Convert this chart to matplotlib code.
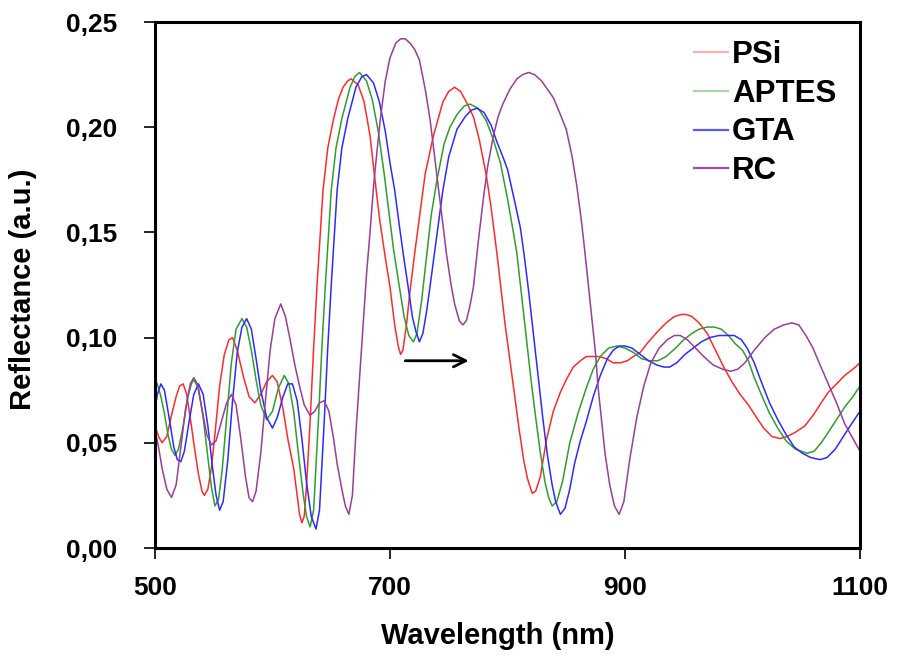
import matplotlib
matplotlib.use("Agg")
import matplotlib.pyplot as plt
from matplotlib.lines import Line2D

plt.rcParams['font.family'] = ['Liberation Sans', 'DejaVu Sans']
plt.rcParams['font.weight'] = 'bold'

# ---------------- data ----------------
psi_x = [500, 503, 506, 510, 514, 518, 521, 524, 527, 531, 534, 537, 540, 542, 545, 548, 551, 555, 559, 563,
         566, 570, 575, 580, 585, 590, 595, 600, 604, 609, 613, 618, 621, 623, 625, 627, 629, 632, 635, 638,
         643, 647, 652, 656, 660, 664, 667, 673, 678, 683, 687, 691, 696, 700, 704, 707, 709, 711, 714, 717,
         721, 725, 730, 737, 745, 750, 755, 760, 765, 771, 776, 782, 786, 791, 798, 805, 810, 814, 817, 821,
         824, 828, 833, 839, 845, 850, 856, 862, 867, 872, 878, 884, 890, 896, 902, 907, 913, 920, 928, 935,
         942, 948, 952, 957, 963, 970, 977, 984, 991, 998, 1005, 1012, 1018, 1025, 1032, 1038, 1045, 1053,
         1060, 1067, 1073, 1080, 1087, 1094, 1100]
psi_y = [0.058, 0.053, 0.050, 0.053, 0.063, 0.072, 0.077, 0.078, 0.073, 0.058, 0.046, 0.035, 0.027, 0.025,
         0.028, 0.038, 0.054, 0.077, 0.092, 0.099, 0.100, 0.094, 0.082, 0.072, 0.069, 0.073, 0.079, 0.082,
         0.079, 0.066, 0.052, 0.038, 0.025, 0.016, 0.012, 0.015, 0.030, 0.060, 0.095, 0.126, 0.170, 0.190,
         0.204, 0.213, 0.219, 0.222, 0.223, 0.220, 0.212, 0.196, 0.176, 0.157, 0.138, 0.124, 0.106, 0.096,
         0.092, 0.094, 0.106, 0.122, 0.140, 0.157, 0.178, 0.196, 0.212, 0.217, 0.219, 0.217, 0.212, 0.205,
         0.194, 0.177, 0.162, 0.140, 0.106, 0.077, 0.056, 0.041, 0.033, 0.026, 0.027, 0.034, 0.051, 0.065,
         0.074, 0.080, 0.086, 0.089, 0.091, 0.091, 0.091, 0.090, 0.088, 0.088, 0.089, 0.091, 0.093, 0.098,
         0.103, 0.107, 0.110, 0.111, 0.111, 0.110, 0.107, 0.102, 0.094, 0.086, 0.079, 0.073, 0.068, 0.062,
         0.057, 0.053, 0.052, 0.053, 0.055, 0.058, 0.063, 0.069, 0.074, 0.078, 0.082, 0.085, 0.088]

aptes_x = [500, 502, 505, 508, 511, 514, 517, 520, 524, 528, 531, 533, 537, 541, 545, 548, 551, 554, 557, 561,
           565, 569, 574, 578, 582, 586, 590, 595, 600, 605, 610, 614, 618, 622, 626, 629, 632, 635, 639, 642,
           645, 650, 654, 659, 666, 670, 674, 680, 685, 690, 695, 699, 703, 708, 712, 716, 720, 723, 727, 731,
           735, 740, 746, 751, 757, 763, 768, 775, 782, 788, 794, 800, 805, 808, 812, 816, 820, 824, 828, 832,
           835, 838, 842, 847, 853, 860, 867, 873, 879, 886, 893, 900, 907, 914, 921, 928, 935, 943, 950, 957,
           963, 970, 976, 982, 988, 994, 1000, 1005, 1010, 1016, 1023, 1030, 1037, 1045, 1050, 1055, 1061,
           1067, 1073, 1080, 1087, 1094, 1100]
aptes_y = [0.079, 0.078, 0.072, 0.064, 0.054, 0.047, 0.044, 0.047, 0.058, 0.072, 0.078, 0.080, 0.076, 0.062,
           0.043, 0.029, 0.020, 0.023, 0.036, 0.062, 0.088, 0.104, 0.109, 0.105, 0.094, 0.080, 0.068, 0.061,
           0.065, 0.076, 0.082, 0.078, 0.065, 0.045, 0.026, 0.015, 0.010, 0.018, 0.060, 0.095, 0.125, 0.170,
           0.190, 0.204, 0.219, 0.224, 0.226, 0.222, 0.213, 0.198, 0.178, 0.160, 0.142, 0.124, 0.110, 0.101,
           0.098, 0.102, 0.118, 0.138, 0.158, 0.175, 0.192, 0.200, 0.206, 0.210, 0.211, 0.209, 0.203, 0.194,
           0.183, 0.166, 0.150, 0.140, 0.120, 0.100, 0.080, 0.062, 0.045, 0.031, 0.024, 0.020, 0.022, 0.032,
           0.050, 0.064, 0.076, 0.085, 0.091, 0.095, 0.096, 0.095, 0.093, 0.090, 0.089, 0.089, 0.091, 0.095,
           0.099, 0.102, 0.104, 0.105, 0.105, 0.104, 0.101, 0.097, 0.094, 0.089, 0.081, 0.073, 0.064, 0.057,
           0.051, 0.047, 0.046, 0.045, 0.046, 0.050, 0.055, 0.061, 0.067, 0.072, 0.077]

gta_x = [500, 502, 505, 508, 512, 516, 519, 522, 525, 529, 533, 537, 541, 545, 549, 552, 555, 558, 562, 566,
         570, 574, 578, 582, 586, 590, 595, 600, 604, 609, 613, 617, 621, 625, 629, 633, 637, 640, 644, 647,
         650, 655, 659, 664, 671, 676, 680, 686, 691, 696, 700, 704, 708, 712, 716, 719, 722, 725, 728, 731,
         734, 739, 745, 750, 757, 764, 769, 774, 780, 786, 791, 796, 800, 806, 811, 814, 818, 822, 826, 830,
         834, 838, 841, 845, 849, 853, 857, 862, 867, 873, 879, 885, 890, 895, 900, 906, 913, 920, 927, 933,
         938, 944, 951, 958, 965, 972, 980, 987, 993, 999, 1004, 1010, 1016, 1023, 1030, 1037, 1044, 1051,
         1058, 1066, 1072, 1079, 1087, 1094, 1100]
gta_y = [0.066, 0.073, 0.078, 0.075, 0.062, 0.048, 0.042, 0.041, 0.046, 0.060, 0.073, 0.078, 0.073, 0.058,
         0.038, 0.025, 0.018, 0.022, 0.042, 0.070, 0.093, 0.105, 0.109, 0.104, 0.090, 0.075, 0.062, 0.057,
         0.062, 0.072, 0.078, 0.078, 0.070, 0.052, 0.031, 0.015, 0.009, 0.018, 0.060, 0.095, 0.125, 0.170,
         0.190, 0.204, 0.219, 0.224, 0.225, 0.221, 0.212, 0.198, 0.183, 0.170, 0.153, 0.137, 0.122, 0.110,
         0.103, 0.098, 0.102, 0.112, 0.124, 0.145, 0.170, 0.186, 0.199, 0.205, 0.208, 0.209, 0.207, 0.201,
         0.193, 0.186, 0.180, 0.165, 0.152, 0.140, 0.122, 0.102, 0.082, 0.062, 0.044, 0.030, 0.022, 0.016,
         0.019, 0.028, 0.040, 0.051, 0.060, 0.072, 0.082, 0.090, 0.094, 0.096, 0.096, 0.095, 0.092, 0.089,
         0.087, 0.086, 0.086, 0.088, 0.092, 0.095, 0.098, 0.100, 0.101, 0.101, 0.101, 0.099, 0.095, 0.088,
         0.079, 0.069, 0.061, 0.054, 0.048, 0.045, 0.043, 0.042, 0.043, 0.047, 0.054, 0.060, 0.065]

rc_x = [500, 503, 506, 510, 514, 518, 522, 526, 530, 533, 536, 540, 544, 548, 552, 556, 561, 565, 569, 573,
        577, 580, 583, 586, 590, 594, 598, 602, 607, 611, 615, 619, 623, 627, 632, 636, 640, 644, 648, 652,
        655, 659, 662, 665, 668, 671, 674, 677, 680, 683, 686, 689, 692, 696, 700, 705, 709, 713, 717, 721,
        725, 730, 734, 738, 741, 745, 748, 752, 755, 759, 762, 765, 768, 771, 775, 779, 783, 788, 792, 796,
        802, 808, 813, 818, 823, 829, 834, 839, 845, 850, 855, 859, 863, 866, 869, 872, 875, 877, 880, 883,
        887, 891, 895, 899, 904, 910, 916, 922, 929, 936, 942, 947, 953, 960, 967, 975, 983, 990, 996, 1002,
        1010, 1019, 1027, 1035, 1042, 1048, 1054, 1060, 1066, 1073, 1080, 1087, 1094, 1100]
rc_y = [0.056, 0.048, 0.038, 0.028, 0.024, 0.030, 0.048, 0.066, 0.078, 0.081, 0.078, 0.066, 0.054, 0.049,
        0.051, 0.059, 0.069, 0.073, 0.068, 0.052, 0.034, 0.024, 0.022, 0.027, 0.045, 0.070, 0.094, 0.109,
        0.116, 0.110, 0.099, 0.087, 0.077, 0.068, 0.063, 0.065, 0.069, 0.070, 0.065, 0.052, 0.040, 0.028,
        0.020, 0.016, 0.025, 0.055, 0.080, 0.105, 0.130, 0.150, 0.172, 0.189, 0.205, 0.222, 0.233, 0.240,
        0.242, 0.242, 0.240, 0.237, 0.232, 0.218, 0.204, 0.186, 0.172, 0.154, 0.140, 0.125, 0.116, 0.108,
        0.106, 0.108, 0.115, 0.124, 0.145, 0.164, 0.181, 0.196, 0.205, 0.211, 0.218, 0.223, 0.225, 0.226,
        0.225, 0.222, 0.218, 0.214, 0.206, 0.199, 0.186, 0.172, 0.155, 0.140, 0.124, 0.108, 0.092, 0.077,
        0.061, 0.045, 0.030, 0.020, 0.016, 0.022, 0.042, 0.062, 0.077, 0.088, 0.095, 0.099, 0.101, 0.101,
        0.099, 0.095, 0.091, 0.087, 0.085, 0.084, 0.085, 0.088, 0.094, 0.100, 0.104, 0.106, 0.107, 0.106,
        0.101, 0.095, 0.087, 0.078, 0.069, 0.059, 0.052, 0.046]

series_labels = ['PSi', 'APTES', 'GTA', 'RC']
x_ticks = [500, 700, 900, 1100]
x_tick_labels = ['500', '700', '900', '1100']
y_ticks = [0.00, 0.05, 0.10, 0.15, 0.20, 0.25]
y_tick_labels = ['0,00', '0,05', '0,10', '0,15', '0,20', '0,25']
arrow_from = (713, 0.089)
arrow_to = (767, 0.089)

# ---------------- figure ----------------
line_colors = ['#ff2a2a', '#2f9e2f', '#2b2bff', '#9a3d9a']
legend_colors = ['#ffb0b0', '#a8d8a8', '#5a5aff', '#a04ca0']

fig = plt.figure(figsize=(8.98, 6.6), dpi=100)
ax = fig.add_axes([155 / 898, 1 - 548 / 660, 705 / 898, 526 / 660])

for xs, ys, c in zip([psi_x, aptes_x, gta_x, rc_x], [psi_y, aptes_y, gta_y, rc_y], line_colors):
    ax.plot(xs, ys, color=c, lw=1.1, solid_joinstyle='round')

ax.set_xlim(500, 1100)
ax.set_ylim(0, 0.25)
ax.set_xticks(x_ticks)
ax.set_xticklabels(x_tick_labels)
ax.set_yticks(y_ticks)
ax.set_yticklabels(y_tick_labels)
ax.tick_params(direction='out', length=8, width=1.2, labelsize=19, colors='black')
ax.tick_params(axis='x', pad=12)
ax.tick_params(axis='y', pad=19)
for s in ax.spines.values():
    s.set_linewidth(2.2)
    s.set_color('black')

ax.set_xlabel('Wavelength (nm)', fontsize=21, fontweight='bold')
ax.set_ylabel('Reflectance (a.u.)', fontsize=21, fontweight='bold')
ax.xaxis.set_label_coords((498 - 155) / 705, (548 - 622) / 526)
ax.yaxis.set_label_coords((37 - 155) / 705, (548 - 289) / 526)

ax.annotate('', xy=arrow_to, xytext=arrow_from,
            arrowprops=dict(arrowstyle='->', color='black', lw=2.0, mutation_scale=22,
                            shrinkA=0, shrinkB=0))

handles = [Line2D([0], [0], color=c, lw=1.6) for c in legend_colors]
ax.legend(handles, series_labels, loc='upper left', bbox_to_anchor=(694 / 898, 1 - 40 / 660),
          bbox_transform=fig.transFigure, frameon=False, borderpad=0, handlelength=1.08,
          handletextpad=0.13, labelspacing=0.28, borderaxespad=0,
          prop={'size': 22.5, 'weight': 'bold'})

fig.savefig('out.png', dpi=100)
